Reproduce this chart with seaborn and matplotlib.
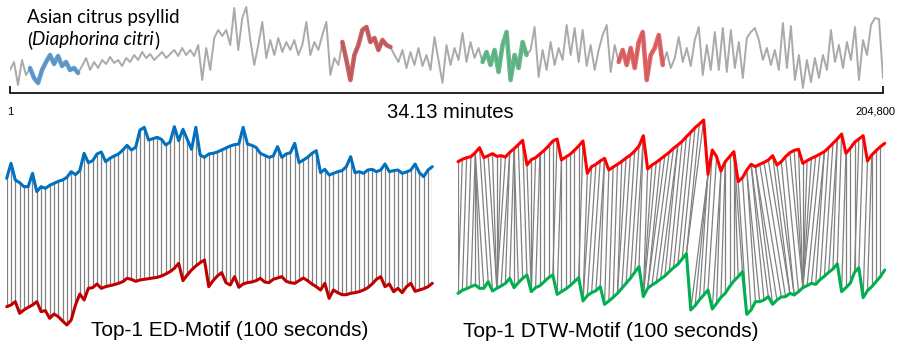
import numpy as np
import matplotlib
matplotlib.use("Agg")
import matplotlib.pyplot as plt
import matplotlib.transforms as mtransforms
from matplotlib.collections import LineCollection
import seaborn as sns

# full recording (screen depth units: small = high)
psyllid = np.array([
    70, 62, 85, 60, 75, 68, 78, 83, 70, 62, 55, 64, 56, 66, 62, 70, 68, 73, 66, 58,
    70, 62, 68, 60, 64, 57, 63, 60, 66, 58, 62, 55, 60, 52, 58, 54, 60, 56, 52, 58,
    54, 50, 56, 48, 55, 50, 56, 45, 80, 48, 70, 38, 30, 36, 30, 45, 8, 50, 18, 7,
    40, 65, 45, 22, 58, 40, 55, 38, 52, 42, 50, 40, 55, 45, 22, 55, 42, 50, 35, 22,
    75, 58, 65, 42, 60, 80, 55, 45, 30, 27, 42, 38, 50, 40, 45, 47, 55, 62, 50, 68,
    52, 65, 48, 66, 55, 70, 37, 60, 83, 45, 65, 48, 60, 33, 62, 42, 58, 48, 62, 52,
    65, 50, 72, 45, 32, 80, 55, 68, 42, 55, 50, 27, 77, 50, 70, 42, 65, 48, 60, 25,
    55, 28, 62, 30, 66, 45, 70, 50, 35, 25, 72, 45, 62, 50, 65, 48, 68, 42, 32, 80,
    55, 48, 35, 65, 52, 68, 58, 37, 62, 48, 66, 40, 27, 75, 45, 70, 32, 70, 28, 72,
    30, 68, 42, 78, 38, 32, 28, 40, 60, 48, 65, 50, 70, 23, 68, 26, 80, 55, 88, 60,
    82, 58, 78, 55, 70, 30, 62, 45, 68, 42, 60, 27, 80, 40, 55, 25, 18, 19, 78,
])
# index ranges of the highlighted subsequences
seg_start = [5, 83, 118, 152]
seg_end = [17, 95, 129, 163]
seg_colors = ["#4a8fc9", "#c04a4a", "#4fb07a", "#dd4f4f"]

# ED motif pair (depth units)
ed_first = np.array([
    175, 130, 180, 188, 200, 200, 160, 215, 200, 205, 196, 190, 184, 180, 172, 155, 164, 152, 100, 128,
    122, 102, 96, 125, 115, 108, 102, 90, 76, 90, 82, 30, 22, 60, 56, 52, 58, 75, 66, 20,
    62, 28, 58, 88, 22, 105, 112, 102, 100, 96, 90, 84, 78, 74, 72, 22, 72, 76, 82, 100,
    106, 112, 108, 80, 112, 102, 98, 70, 128, 120, 112, 100, 92, 158, 148, 165, 160, 155, 152, 140,
    110, 158, 155, 160, 150, 148, 155, 150, 132, 155, 152, 150, 160, 156, 150, 132, 158, 170, 150, 140,
])
ed_second = np.array([
    560, 555, 545, 580, 570, 562, 555, 545, 575, 572, 595, 582, 590, 603, 615, 600, 555, 522, 540, 505,
    503, 492, 505, 500, 497, 494, 490, 485, 475, 478, 484, 480, 478, 476, 474, 472, 468, 462, 455, 445,
    430, 482, 465, 450, 438, 428, 420, 500, 482, 468, 458, 488, 495, 470, 502, 492, 488, 486, 482, 475,
    486, 488, 478, 474, 470, 484, 488, 490, 482, 474, 482, 492, 500, 510, 490, 535, 510, 518, 524, 524,
    520, 518, 515, 510, 503, 492, 478, 470, 500, 492, 515, 505, 518, 500, 490, 514, 510, 506, 500, 490,
])

# DTW motif pair (depth units)
dtw_first = np.array([
    140, 133, 128, 125, 113, 98, 128, 122, 116, 124, 122, 126, 112, 101, 89, 76, 150, 134, 128, 117,
    106, 93, 78, 72, 135, 126, 118, 106, 93, 78, 175, 155, 148, 138, 130, 165, 156, 148, 139, 129,
    120, 108, 93, 62, 162, 150, 142, 132, 122, 112, 100, 90, 79, 65, 52, 38, 27, 15, 178, 105,
    125, 168, 140, 125, 110, 200, 188, 165, 148, 155, 148, 142, 135, 122, 150, 140, 125, 113, 106, 103,
    145, 137, 130, 124, 117, 110, 98, 85, 72, 57, 115, 100, 82, 72, 62, 138, 120, 107, 95, 85,
])
dtw_second = np.array([
    535, 526, 521, 515, 510, 520, 520, 500, 528, 520, 513, 505, 490, 518, 503, 490, 480, 530, 518, 512,
    500, 488, 480, 538, 530, 522, 512, 500, 488, 558, 542, 533, 527, 515, 568, 558, 547, 535, 520, 505,
    490, 472, 455, 545, 520, 510, 502, 492, 483, 470, 458, 448, 432, 416, 585, 572, 555, 540, 525, 582,
    565, 547, 535, 515, 498, 485, 470, 598, 585, 560, 560, 555, 545, 568, 555, 546, 545, 535, 540, 530,
    518, 512, 505, 508, 494, 484, 472, 462, 446, 530, 518, 505, 472, 458, 548, 527, 515, 500, 485, 465,
])


def znorm(v):
    return (v - v.mean()) / v.std()


def dtw_path(a, b, band=8):
    n, m = len(a), len(b)
    cost = np.full((n + 1, m + 1), np.inf)
    cost[0, 0] = 0.0
    for i in range(1, n + 1):
        for j in range(max(1, i - band), min(m, i + band) + 1):
            d = (a[i - 1] - b[j - 1]) ** 2
            cost[i, j] = d + min(cost[i - 1, j], cost[i, j - 1], cost[i - 1, j - 1])
    i, j = n, m
    path = [(i - 1, j - 1)]
    while i > 1 or j > 1:
        steps = [(cost[i - 1, j - 1], i - 1, j - 1), (cost[i - 1, j], i - 1, j), (cost[i, j - 1], i, j - 1)]
        _, i, j = min(steps)
        path.append((i - 1, j - 1))
    return path[::-1]


sns.set_theme(style="white")
plt.rcParams["font.family"] = ["Liberation Sans", "DejaVu Sans"]
plt.rcParams["text.color"] = "black"
plt.rcParams["xtick.color"] = "black"

W, H = 898, 346
fig = plt.figure(figsize=(W / 100, H / 100), dpi=100)

# --- top: whole recording -------------------------------------------------
ax_top = fig.add_axes([10 / W, 1 - 93 / H, 873 / W, 93 / H])
x_top = np.linspace(1, 204800, len(psyllid))
sns.lineplot(x=x_top, y=psyllid, color="#aaaaaa", lw=1.4, ax=ax_top, estimator=None)
for a, b, c in zip(seg_start, seg_end, seg_colors):
    sns.lineplot(x=x_top[a:b + 1], y=psyllid[a:b + 1], color=c, lw=3.3, alpha=0.85,
                 ax=ax_top, estimator=None)
ax_top.set_xlim(1, 204800)
ax_top.set_ylim(93, 0)
for s in ["top", "left", "right"]:
    ax_top.spines[s].set_visible(False)
ax_top.spines["bottom"].set_color("black")
ax_top.spines["bottom"].set_linewidth(1.2)
ax_top.set_yticks([])
ax_top.set_xticks([1, 204800])
ax_top.set_xticklabels(["1", "204,800"], fontsize=8)
ax_top.tick_params(axis="x", direction="in", length=5, width=1.2, color="black",
                   labelcolor="black", pad=10, bottom=True)
labels = ax_top.get_xticklabels()
labels[1].set_horizontalalignment("right")
labels[1].set_transform(labels[1].get_transform()
                        + mtransforms.ScaledTranslation(0.12, 0, fig.dpi_scale_trans))
ax_top.set_xlabel("")
ax_top.set_ylabel("")
ax_top.text(0.504, -0.215, "34.13 minutes", transform=ax_top.transAxes,
            ha="center", va="center", fontsize=14.5, color="black")

font_top = ["Lato", "DejaVu Sans"]
ax_top.text(0.0195, 0.817, "Asian citrus psyllid", transform=ax_top.transAxes,
            ha="left", va="center", fontsize=13.5, family=font_top, color="black")
p1 = ax_top.text(0.0195, 0.57, "(", transform=ax_top.transAxes,
                 ha="left", va="center", fontsize=13.5, family=font_top, color="black")
p2 = ax_top.annotate("Diaphorina citri", xy=(1, 0.5), xycoords=p1, va="center", ha="left",
                     fontsize=13.5, style="italic", family=font_top, color="black")
ax_top.annotate(")", xy=(1, 0.5), xycoords=p2, va="center", ha="left",
                fontsize=13.5, family=font_top, color="black")

# --- bottom left: ED motif ------------------------------------------------
ax_ed = fig.add_axes([6.7 / W, 0, 425.6 / W, 226 / H])
idx = np.arange(len(ed_first))
ax_ed.vlines(idx, ed_first, ed_second, color="#808080", lw=0.9, zorder=1)
sns.lineplot(x=idx, y=ed_first, color="#0070c0", lw=2.2, ax=ax_ed, estimator=None, zorder=3)
sns.lineplot(x=idx, y=ed_second, color="#c00000", lw=2.2, ax=ax_ed, estimator=None, zorder=3)
ax_ed.set_xlim(0, len(idx) - 1)
ax_ed.set_ylim(678, 0)
ax_ed.axis("off")
ax_ed.text(0.525, 0.068, "Top-1 ED-Motif (100 seconds)", transform=ax_ed.transAxes,
           ha="center", va="center", fontsize=15, color="black")

# --- bottom right: DTW motif ----------------------------------------------
ax_dtw = fig.add_axes([458 / W, 0, 426.7 / W, 231 / H])
idx2 = np.arange(len(dtw_first))
path = dtw_path(znorm(dtw_first), znorm(dtw_second))
segs = [[(i, dtw_first[i]), (j, dtw_second[j])] for i, j in path]
ax_dtw.add_collection(LineCollection(segs, colors="#808080", linewidths=0.9, zorder=1))
sns.lineplot(x=idx2, y=dtw_first, color="#ff0000", lw=2.2, ax=ax_dtw, estimator=None, zorder=3)
sns.lineplot(x=idx2, y=dtw_second, color="#00b050", lw=2.2, ax=ax_dtw, estimator=None, zorder=3)
ax_dtw.set_xlim(0, len(idx2) - 1)
ax_dtw.set_ylim(693, 0)
ax_dtw.axis("off")
ax_dtw.text(0.359, 0.061, "Top-1 DTW-Motif (100 seconds)", transform=ax_dtw.transAxes,
            ha="center", va="center", fontsize=15, color="black")

for ax in (ax_ed, ax_dtw):
    for ln in ax.lines:
        ln.set_clip_on(False)

fig.savefig("out.png", dpi=100)
